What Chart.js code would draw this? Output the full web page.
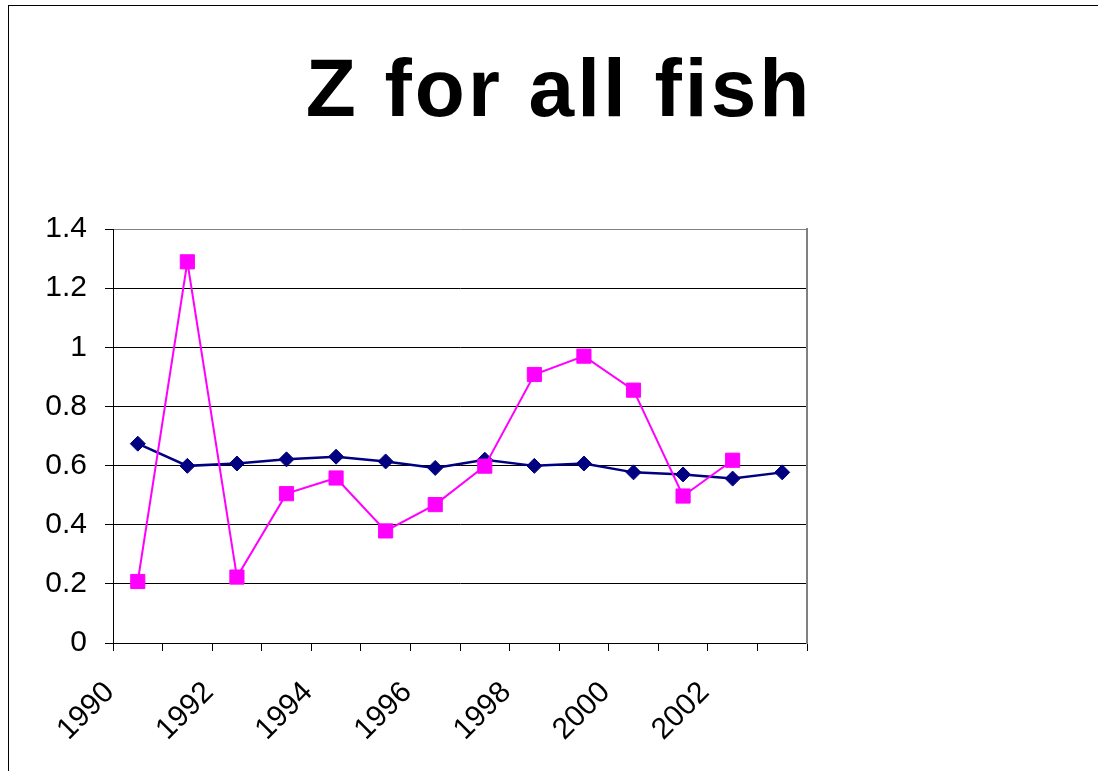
<!DOCTYPE html>
<html><head><meta charset="utf-8">
<script src="https://cdn.jsdelivr.net/npm/chart.js@4.4.1/dist/chart.umd.min.js"></script>
<style>
html,body{margin:0;padding:0;background:#fff;}
#wrap{position:relative;width:1098px;height:771px;overflow:hidden;background:#fff;}
#frame{position:absolute;left:8px;top:5px;width:1200px;height:1000px;border-left:1px solid #000;border-top:1px solid #000;pointer-events:none;}
canvas{position:absolute;left:0;top:0;}
</style></head><body>
<div id="wrap"><canvas id="c" width="1098" height="771"></canvas><div id="frame"></div></div>
<script>
const chartTitle = 'Z for all fish';
const years = ['1990','1991','1992','1993','1994','1995','1996','1997','1998','1999','2000','2001','2002','2003'];
const zSeriesA = [0.674, 0.599, 0.607, 0.621, 0.630, 0.614, 0.592, 0.620, 0.599, 0.607, 0.577, 0.570, 0.556, 0.577];
const zSeriesB = [0.208, 1.289, 0.223, 0.505, 0.558, 0.379, 0.468, 0.598, 0.908, 0.970, 0.855, 0.497, 0.618, null];
const yMin = 0, yMax = 1.4, yStep = 0.2;

const FONT = "'Liberation Sans', Arial, Helvetica, sans-serif";

// Wider letter spacing for the title only
const titleSpacingPlugin = {
  id: 'titleSpacing',
  beforeDraw(chart) {
    const tb = chart.titleBlock;
    if (tb && !tb._spacedPatch) {
      const orig = tb.draw.bind(tb);
      tb.draw = function() {
        const c = this.ctx;
        const prev = c.letterSpacing;
        c.letterSpacing = '3px';
        orig();
        c.letterSpacing = prev || '0px';
      };
      tb._spacedPatch = true;
    }
  }
};

new Chart(document.getElementById('c'), {
  type: 'line',
  plugins: [titleSpacingPlugin],
  data: {
    labels: years,
    datasets: [
      {
        label: 'Series A',
        data: zSeriesA,
        order: 1,
        borderColor: '#000080',
        backgroundColor: '#000080',
        borderWidth: 2.5,
        pointStyle: 'rectRot',
        pointRadius: 7.5,
        pointBorderWidth: 1,
        pointBackgroundColor: '#000080',
        pointBorderColor: '#000080',
        tension: 0
      },
      {
        label: 'Series B',
        data: zSeriesB,
        order: 0,
        borderColor: '#FF00FF',
        backgroundColor: '#FF00FF',
        borderWidth: 2,
        pointStyle: 'rect',
        pointRadius: 10,
        pointBorderWidth: 1,
        pointBackgroundColor: '#FF00FF',
        pointBorderColor: '#FF00FF',
        tension: 0
      }
    ]
  },
  options: {
    responsive: false,
    animation: false,
    devicePixelRatio: 1,
    layout: { padding: { left: 20, right: 0, top: 0, bottom: 0 } },
    plugins: {
      legend: { display: false },
      tooltip: { enabled: false },
      title: {
        display: true,
        text: chartTitle,
        color: '#000',
        font: { family: FONT, size: 82, weight: 'bold', lineHeight: 1.2 },
        padding: { top: 44, bottom: 86.6 }
      }
    },
    scales: {
      x: {
        type: 'category',
        offset: true,
        grid: { display: true, drawOnChartArea: false, drawTicks: true, tickLength: 8, offset: true, color: '#000', tickColor: '#000' },
        border: { display: true, color: '#000', width: 1 },
        ticks: {
          autoSkip: false,
          maxRotation: 45,
          minRotation: 45,
          padding: 24,
          labelOffset: -28,
          color: '#000',
          font: { family: FONT, size: 30 },
          callback: function(v, i) { return i % 2 === 0 ? years[i] : ''; }
        },
        afterFit: function(s) { s.paddingLeft = 0; s.paddingRight = 0; s.height = 128; }
      },
      y: {
        min: yMin, max: yMax,
        grid: {
          color: function(ctx) { return (ctx.tick && Math.abs(ctx.tick.value - yMax) < 1e-9) ? '#808080' : '#000'; },
          tickColor: '#000',
          tickLength: 8,
          lineWidth: 1
        },
        border: { display: true, color: '#000', width: 1 },
        ticks: {
          stepSize: yStep,
          padding: 18,
          color: '#000',
          font: { family: FONT, size: 30 },
          callback: function(v) { return String(+(+v).toFixed(1)); }
        },
        afterFit: function(s) { s.width = 93; s.paddingTop = 0; s.paddingBottom = 0; }
      },
      y2: {
        position: 'right',
        display: true,
        min: 0, max: 1,
        grid: { display: false, drawOnChartArea: false, drawTicks: false },
        border: { display: true, color: '#808080', width: 2 },
        ticks: { display: false },
        afterFit: function(s) { s.width = 291; s.paddingTop = 0; s.paddingBottom = 0; }
      }
    }
  }
});
</script>
</body></html>
